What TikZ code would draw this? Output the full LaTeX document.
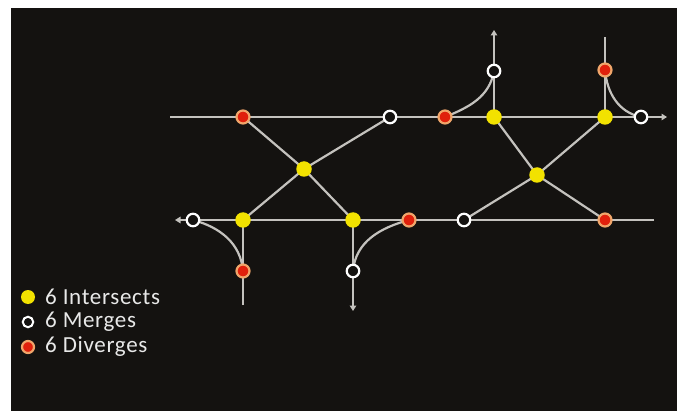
\documentclass[tikz,border=0pt]{standalone}
\usepackage{fontspec}
\setmainfont{Carlito}[LetterSpace=3]
\usetikzlibrary{arrows.meta,backgrounds}
\definecolor{bg}{HTML}{141210}
\definecolor{road}{HTML}{C4C2BE}
\definecolor{ylw}{HTML}{F2E200}
\definecolor{dred}{HTML}{E0200C}
\definecolor{dring}{HTML}{F0A56A}
\definecolor{txt}{HTML}{E8E8E8}
\tikzset{
  isect/.style={circle,fill=ylw,inner sep=0pt,minimum size=15.5pt},
  merge/.style={circle,draw=white,fill=bg,line width=2.2pt,inner sep=0pt,minimum size=12.5pt},
  diverge/.style={circle,draw=dring,fill=dred,line width=2.2pt,inner sep=0pt,minimum size=13pt},
  roadline/.style={draw=road,line width=2.2pt},
  tip/.style={-{Triangle[length=5.5pt,width=6.5pt]}},
  legend/.style={anchor=west,text=txt,font=\fontsize{23}{25}\selectfont,inner sep=0pt}
}
\begin{document}
\begin{tikzpicture}[x=1pt,y=-1pt]
\useasboundingbox (0,0) rectangle (684,411);
% nodes
\node[diverge] (d1) at (243,117) {};
\node[merge]   (m1) at (390,117) {};
\node[diverge] (d2) at (445,117) {};
\node[isect]   (i1) at (494,117) {};
\node[isect]   (i2) at (605,117) {};
\node[merge]   (m2) at (641,117) {};
\node[merge]   (m3) at (494,71) {};
\node[diverge] (d3) at (605,70) {};
\node[isect]   (i3) at (304,169) {};
\node[isect]   (i4) at (537,175) {};
\node[merge]   (m4) at (193,220) {};
\node[isect]   (i5) at (243,220) {};
\node[isect]   (i6) at (353,220) {};
\node[diverge] (d4) at (409,220) {};
\node[merge]   (m5) at (464,220) {};
\node[diverge] (d5) at (605,220) {};
\node[diverge] (d6) at (243,271) {};
\node[merge]   (m6) at (353,271) {};
\coordinate (tL) at (170,117);
\coordinate (tR) at (667,117);
\coordinate (bL) at (175,220);
\coordinate (bR) at (654,220);
\coordinate (vUp) at (494,30);
\coordinate (vTop) at (605,37);
\coordinate (vBl) at (243,305);
\coordinate (vDn) at (353,311);
% legend
\node[isect,minimum size=14pt] (ki) at (28,297) {};
\node[merge,minimum size=10.5pt,line width=2pt] (km) at (28,322) {};
\node[diverge,minimum size=12pt] (kd) at (28,347) {};
\node[legend] (ti) at (45,297) {6 Intersects};
\node[legend] (tm) at (45,322) {6 Merges};
\node[legend] (td) at (45,347) {6 Diverges};
\begin{scope}[on background layer]
  \fill[bg] (11,8) rectangle (677,411);
  \draw[roadline,tip] (tL) -- (tR);
  \draw[roadline,tip] (bR) -- (bL);
  \draw[roadline,tip] (i1.center) -- (vUp);
  \draw[roadline] (vTop) -- (i2.center);
  \draw[roadline] (vBl) -- (i5.center);
  \draw[roadline,tip] (i6.center) -- (vDn);
  \draw[roadline] (d1.center) -- (i3.center) -- (i6.center);
  \draw[roadline] (i5.center) -- (i3.center) -- (m1.center);
  \draw[roadline] (i1.center) -- (i4.center) -- (d5.center);
  \draw[roadline] (i2.center) -- (i4.center) -- (m5.center);
  \draw[roadline] (d2.center) to[out=22,in=-100] (m3.center);
  \draw[roadline] (d3.center) to[out=-85,in=168] (m2.center);
  \draw[roadline] (m4.center) to[out=-15,in=95] (d6.center);
  \draw[roadline] (d4.center) to[out=195,in=85] (m6.center);
\end{scope}
\end{tikzpicture}
\end{document}
